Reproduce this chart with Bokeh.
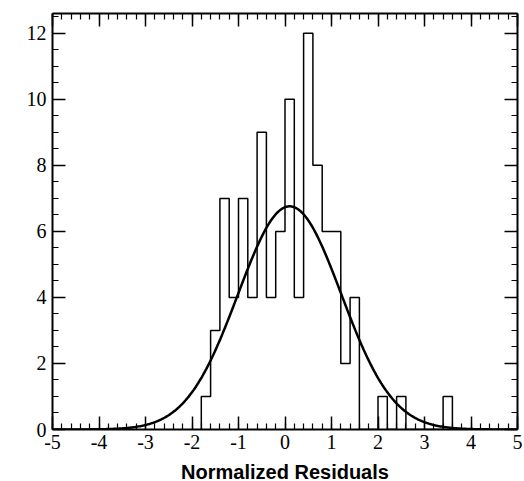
import numpy as np
from bokeh.plotting import figure
from bokeh.models import LinearAxis, Range1d, FixedTicker, CustomJSTickFormatter
from bokeh.embed import file_html
from bokeh.resources import INLINE

# Histogram data (left bin edges, width 0.2)
bin_left = [-1.8, -1.6, -1.4, -1.2, -1.0, -0.8, -0.6, -0.4, -0.2, 0.0, 0.2, 0.4,
            0.6, 0.8, 1.0, 1.2, 1.4, 1.6, 1.8, 2.0, 2.2, 2.4, 2.6, 2.8, 3.0, 3.2, 3.4]
counts = [1, 3, 7, 4, 7, 4, 9, 4, 6, 10, 4, 12,
          8, 6, 6, 2, 4, 0, 0, 1, 0, 1, 0, 0, 0, 0, 1]
bin_width = 0.2

# Gaussian fit parameters
g_mean = 0.1
g_sigma = 1.11
g_peak = 6.76

x_ticks = [-5, -4, -3, -2, -1, 0, 1, 2, 3, 4, 5]
y_ticks = [0, 2, 4, 6, 8, 10, 12]

p = figure(frame_width=465, frame_height=416, output_backend="svg", toolbar_location=None,
           x_range=Range1d(-5, 5), y_range=Range1d(0, 12.6),
           x_axis_location=None, y_axis_location=None,
           min_border_left=52, min_border_right=7, min_border_top=13, min_border_bottom=52)
p.xgrid.visible = False
p.ygrid.visible = False
p.outline_line_color = None
p.background_fill_color = "white"
p.border_fill_color = "white"

xminor = [round(-5 + 0.2 * i, 1) for i in range(51)]
yminor = [0.5 * i for i in range(26)]

fmt = "return tick.toString();"

def style(ax, labels):
    ax.axis_line_width = 2
    ax.axis_line_color = "black"
    ax.major_tick_in = 13
    ax.major_tick_out = 0
    ax.minor_tick_in = 6
    ax.minor_tick_out = 0
    ax.major_tick_line_width = 1.5
    ax.minor_tick_line_width = 1.2
    ax.major_tick_line_color = "black"
    ax.minor_tick_line_color = "black"
    if labels:
        ax.formatter = CustomJSTickFormatter(code=fmt)
        ax.major_label_text_font = "Liberation Serif"
        ax.major_label_text_font_size = "20px"
        ax.major_label_text_color = "black"
        ax.major_label_standoff = 6
    else:
        ax.major_label_text_font_size = "0px"
        ax.major_label_text_color = None

xb = LinearAxis(ticker=FixedTicker(ticks=x_ticks, minor_ticks=xminor))
style(xb, True)
xb.major_label_standoff = 5
xb.axis_label = "Normalized Residuals"
xb.axis_label_text_font = "Liberation Sans"
xb.axis_label_text_font_style = "bold"
xb.axis_label_text_font_size = "20px"
xb.axis_label_text_color = "black"
xb.axis_label_standoff = 9
p.add_layout(xb, "below")

xt = LinearAxis(ticker=FixedTicker(ticks=x_ticks, minor_ticks=xminor))
style(xt, False)
p.add_layout(xt, "above")

yl = LinearAxis(ticker=FixedTicker(ticks=y_ticks, minor_ticks=yminor))
style(yl, True)
p.add_layout(yl, "left")

yr = LinearAxis(ticker=FixedTicker(ticks=y_ticks, minor_ticks=yminor))
style(yr, False)
p.add_layout(yr, "right")

# step outline of histogram
sx = [bin_left[0]] + list(bin_left) + [bin_left[-1] + bin_width]
sy = [0] + list(counts) + [0]
p.step(sx, sy, mode="after", line_color="black", line_width=1.5)

gx = np.linspace(-5, 5, 400)
gy = g_peak * np.exp(-0.5 * ((gx - g_mean) / g_sigma) ** 2)
p.line(gx, gy, line_color="black", line_width=2.5)

open("out.html", "w").write(file_html(p, INLINE))
